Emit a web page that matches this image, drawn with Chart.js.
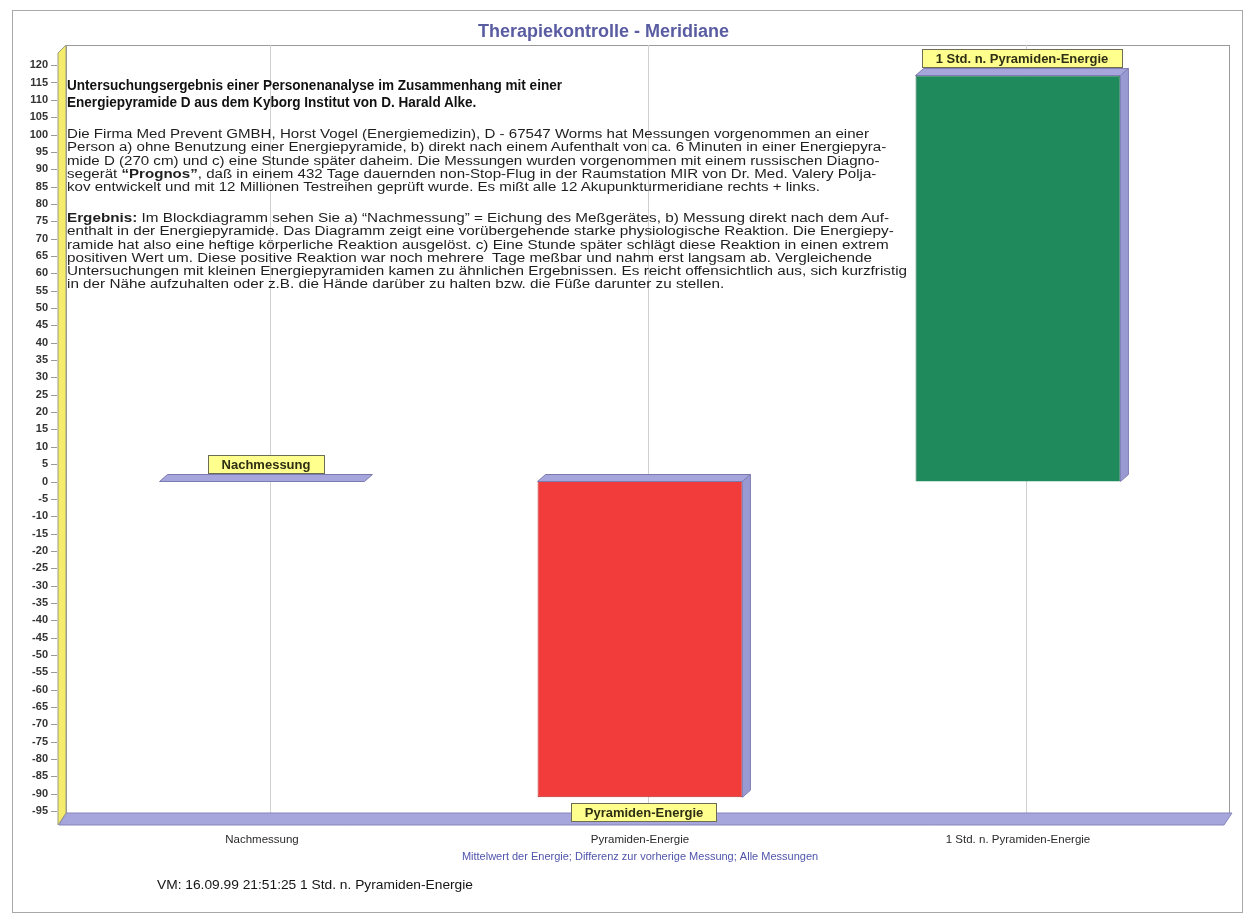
<!DOCTYPE html>
<html>
<head>
<meta charset="utf-8">
<title>Therapiekontrolle - Meridiane</title>
<script src="https://cdn.jsdelivr.net/npm/chart.js@4.4.1/dist/chart.umd.min.js"></script>
<style>
    html, body { margin: 0; padding: 0; background: #fff; }
    #wrap { position: relative; width: 1246px; height: 915px; overflow: hidden; }
    #chart { position: absolute; left: 0; top: 0; }
    .note {
        position: absolute;
        font-family: "Liberation Sans", Arial, sans-serif;
        color: #1e1e1e;
        white-space: pre;
        transform-origin: 0 0;
    }
    #head { left: 67px; top: 77px; font-size: 14px; line-height: 17px; font-weight: bold; color: #111; }
    #para1 { left: 67px; top: 128px; font-size: 12.5px; line-height: 13.3px; }
    #para2 { left: 67px; top: 212px; font-size: 12.5px; line-height: 13.3px; }
    #footer { left: 157px; top: 877px; font-size: 13px; line-height: 15px; color: #151515; }
</style>
</head>
<body>
<div id="wrap">
    <canvas id="chart" width="1246" height="915"></canvas>

    <div class="note" id="head"><span class="ln">Untersuchungsergebnis einer Personenanalyse im Zusammenhang mit einer</span>
<span class="ln">Energiepyramide D aus dem Kyborg Institut von D. Harald Alke.</span></div>

    <div class="note" id="para1"><span class="ln">Die Firma Med Prevent GMBH, Horst Vogel (Energiemedizin), D - 67547 Worms hat Messungen vorgenommen an einer</span>
<span class="ln">Person a) ohne Benutzung einer Energiepyramide, b) direkt nach einem Aufenthalt von ca. 6 Minuten in einer Energiepyra-</span>
<span class="ln">mide D (270 cm) und c) eine Stunde später daheim. Die Messungen wurden vorgenommen mit einem russischen Diagno-</span>
<span class="ln">segerät <b>“Prognos”</b>, daß in einem 432 Tage dauernden non-Stop-Flug in der Raumstation MIR von Dr. Med. Valery Polja-</span>
<span class="ln">kov entwickelt und mit 12 Millionen Testreihen geprüft wurde. Es mißt alle 12 Akupunkturmeridiane rechts + links.</span></div>

    <div class="note" id="para2"><span class="ln"><b>Ergebnis:</b> Im Blockdiagramm sehen Sie a) “Nachmessung” = Eichung des Meßgerätes, b) Messung direkt nach dem Auf-</span>
<span class="ln">enthalt in der Energiepyramide. Das Diagramm zeigt eine vorübergehende starke physiologische Reaktion. Die Energiepy-</span>
<span class="ln">ramide hat also eine heftige körperliche Reaktion ausgelöst. c) Eine Stunde später schlägt diese Reaktion in einen extrem</span>
<span class="ln">positiven Wert um. Diese positive Reaktion war noch mehrere  Tage meßbar und nahm erst langsam ab. Vergleichende</span>
<span class="ln">Untersuchungen mit kleinen Energiepyramiden kamen zu ähnlichen Ergebnissen. Es reicht offensichtlich aus, sich kurzfristig</span>
<span class="ln">in der Nähe aufzuhalten oder z.B. die Hände darüber zu halten bzw. die Füße darunter zu stellen.</span></div>

    <div class="note" id="footer"><span class="ln">VM: 16.09.99 21:51:25 1 Std. n. Pyramiden-Energie</span></div>
</div>

<script>
// Daten
const categories = ['Nachmessung', 'Pyramiden-Energie', '1 Std. n. Pyramiden-Energie'];
const energyValues = [0, -91, 117];
const yTickValues = [120, 115, 110, 105, 100, 95, 90, 85, 80, 75, 70, 65, 60, 55, 50, 45, 40, 35, 30, 25, 20,
    15, 10, 5, 0, -5, -10, -15, -20, -25, -30, -35, -40, -45, -50, -55, -60, -65, -70, -75, -80, -85, -90, -95];
const yMin = -99;
const yMax = 123.5;

// Stil
const FONT = '"Liberation Sans", Arial, sans-serif';
const barColors = ['#a9a9dd', '#f23c3c', '#1f8a5b'];
const barBorders = ['#7c7cb4', '#b82828', '#166443'];
const LAVENDER = '#a6a6dc';
const LAVENDER_SIDE = '#9a9ad2';
const DX = 8, DY = -7;   // Tiefe der 3D-Balken

function poly(ctx, pts, fill, stroke) {
    ctx.beginPath();
    ctx.moveTo(pts[0][0], pts[0][1]);
    for (let i = 1; i < pts.length; i++) ctx.lineTo(pts[i][0], pts[i][1]);
    ctx.closePath();
    ctx.fillStyle = fill;
    ctx.fill();
    if (stroke) {
        ctx.strokeStyle = stroke;
        ctx.lineWidth = 1;
        ctx.stroke();
    }
}

// Rahmen, Rückwand, Boden und gelbe Seitenwand
const framePlugin = {
    id: 'frame3d',
    beforeDraw(chart) {
        const { ctx, chartArea: ca, width, height } = chart;
        ctx.save();
        ctx.fillStyle = '#fff';
        ctx.fillRect(0, 0, width, height);

        ctx.strokeStyle = '#a8a8a8';
        ctx.lineWidth = 1;
        ctx.strokeRect(12.5, 10.5, width - 16, height - 13);

        const bl = ca.left - 7, bt = ca.top - 8, br = ca.right + 22, bb = ca.bottom - 12;
        ctx.strokeStyle = '#9a9a9a';
        ctx.strokeRect(bl + 0.5, bt + 0.5, br - bl, bb - bt);

        // Gitterlinien auf der Rückwand
        const xs = chart.scales.x;
        ctx.strokeStyle = '#d0d0d0';
        categories.forEach((c, i) => {
            const gx = Math.round(xs.getPixelForValue(i) + DX) + 0.5;
            ctx.beginPath();
            ctx.moveTo(gx, bt);
            ctx.lineTo(gx, bb);
            ctx.stroke();
        });

        // Boden
        poly(ctx, [[ca.left - 14, ca.bottom], [bl, bb], [br + 3, bb], [br - 5, ca.bottom]], LAVENDER, '#8585bb');

        // Seitenwand
        poly(ctx, [[ca.left - 15, ca.top], [bl, bt], [bl, bb], [ca.left - 15, ca.bottom]], '#f5ec6c', '#9a9a80');

        // Striche an der Y-Achse
        const ys = chart.scales.y;
        ctx.strokeStyle = '#9a9a9a';
        yTickValues.forEach(v => {
            const ty = Math.round(ys.getPixelForValue(v)) + 0.5;
            ctx.beginPath();
            ctx.moveTo(ca.left - 22, ty);
            ctx.lineTo(ca.left - 16, ty);
            ctx.stroke();
        });
        ctx.restore();
    }
};

// 3D-Flächen und gelbe Beschriftungen der Balken
const barPlugin = {
    id: 'bars3d',
    afterDatasetsDraw(chart) {
        const { ctx } = chart;
        const meta = chart.getDatasetMeta(0);
        ctx.save();
        meta.data.forEach((bar, i) => {
            const { x, y, base, width } = bar.getProps(['x', 'y', 'base', 'width'], true);
            const l = x - width / 2, r = x + width / 2;
            const t = Math.min(y, base), b = Math.max(y, base);

            poly(ctx, [[l, t], [l + DX, t + DY], [r + DX, t + DY], [r, t]], LAVENDER, '#7a7ab0');
            if (b - t > 1) {
                poly(ctx, [[r, t], [r + DX, t + DY], [r + DX, b + DY], [r, b]], LAVENDER_SIDE, '#8080b8');
            }

            // Beschriftung
            ctx.font = 'bold 13px ' + FONT;
            const text = categories[i];
            const w = Math.round(ctx.measureText(text).width + 28);
            const h = 19;
            const cx = x + DX / 2;
            const top = energyValues[i] >= 0 ? t + DY - 1 - h : b + 6;
            ctx.fillStyle = '#ffff8e';
            ctx.fillRect(Math.round(cx - w / 2), Math.round(top), w, h);
            ctx.strokeStyle = '#6d6d55';
            ctx.strokeRect(Math.round(cx - w / 2) + 0.5, Math.round(top) + 0.5, w - 1, h - 1);
            ctx.fillStyle = '#2e2e14';
            ctx.textAlign = 'center';
            ctx.textBaseline = 'middle';
            ctx.fillText(text, cx, top + h / 2 + 1);
        });
        ctx.restore();
    }
};

const chart = new Chart(document.getElementById('chart').getContext('2d'), {
    type: 'bar',
    data: {
        labels: categories,
        datasets: [{
            data: energyValues,
            backgroundColor: barColors,
            borderColor: barBorders,
            borderWidth: 1,
            barPercentage: 0.542,
            categoryPercentage: 1
        }]
    },
    options: {
        responsive: false,
        animation: false,
        devicePixelRatio: 1,
        layout: { padding: { top: 11, right: 39, bottom: 0, left: 0 } },
        plugins: {
            legend: { display: false },
            tooltip: { enabled: false },
            title: {
                display: true,
                text: 'Therapiekontrolle - Meridiane',
                color: '#5a5ca2',
                font: { family: FONT, size: 18, weight: 'bold' },
                padding: { top: 10, bottom: 10.4 }
            }
        },
        scales: {
            x: {
                grid: { display: false, drawTicks: false },
                border: { display: false },
                ticks: { color: '#2a2a2a', font: { family: FONT, size: 11.5 }, padding: 8 },
                title: {
                    display: true,
                    text: 'Mittelwert der Energie; Differenz zur vorherige Messung; Alle Messungen',
                    color: '#5054aa',
                    font: { family: FONT, size: 11 },
                    padding: { top: 0, bottom: 51.4 }
                },
                afterFit(scale) { scale.height = 90; }
            },
            y: {
                min: yMin,
                max: yMax,
                grid: { display: false, drawTicks: false },
                border: { display: false },
                ticks: { color: '#333', font: { family: FONT, size: 11, weight: 'bold' }, padding: 25 },
                afterBuildTicks(scale) { scale.ticks = yTickValues.map(v => ({ value: v })); },
                afterFit(scale) { scale.width = 73; }
            }
        }
    },
    plugins: [framePlugin, barPlugin]
});

// Textblöcke auf die Breite des Originals strecken
function fitBlock(id, targetWidth) {
    const el = document.getElementById(id);
    const w = el.querySelector('.ln').getBoundingClientRect().width;
    el.style.transform = 'scaleX(' + (targetWidth / w).toFixed(4) + ')';
}
fitBlock('head', 495);
fitBlock('para1', 802);
fitBlock('para2', 822);
fitBlock('footer', 316);
</script>
</body>
</html>
